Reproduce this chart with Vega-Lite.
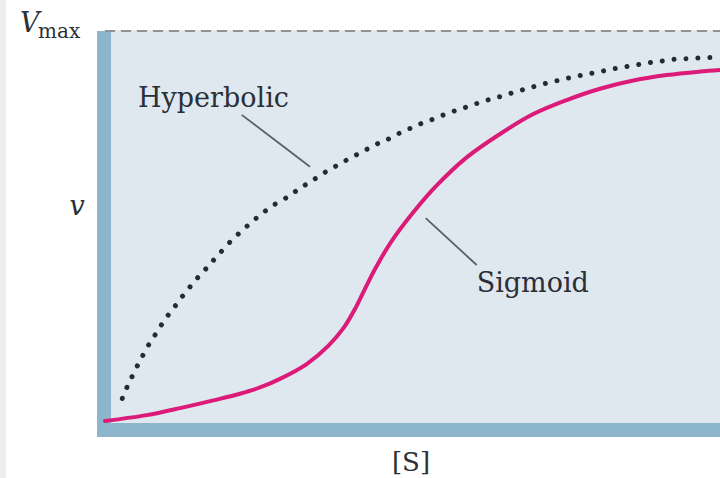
{
  "$schema": "https://vega.github.io/schema/vega-lite/v6.json",
  "width": 720,
  "height": 478,
  "autosize": "none",
  "padding": 0,
  "background": "white",
  "config": {"view": {"stroke": null}},
  "datasets": {
    "edge": [{"s": -10.8, "s2": -10.2, "v": -0.146, "v2": 1.079}],
    "plot": [{"s": 0.3, "s2": 61.2, "v": -0.005, "v2": 1.0026}],
    "leftbar": [{"s": -1.1, "s2": 0.3, "v": -0.041, "v2": 1.0}],
    "bottombar": [{"s": -1.1, "s2": 61.2, "v": -0.041, "v2": -0.005}],
    "vmax": [{"s": -0.3, "v": 1.0}, {"s": 61.2, "v": 1.0}],
    "hyperbolic": [
      {"s": 1.43, "v": 0.058}, {"s": 1.87, "v": 0.085}, {"s": 2.37, "v": 0.112}, {"s": 2.87, "v": 0.138},
      {"s": 3.4, "v": 0.164}, {"s": 3.97, "v": 0.191}, {"s": 4.57, "v": 0.215}, {"s": 5.2, "v": 0.241},
      {"s": 5.83, "v": 0.265}, {"s": 6.53, "v": 0.288}, {"s": 7.2, "v": 0.312}, {"s": 7.93, "v": 0.335},
      {"s": 8.67, "v": 0.359}, {"s": 9.43, "v": 0.38}, {"s": 10.2, "v": 0.402}, {"s": 10.93, "v": 0.423},
      {"s": 12.2, "v": 0.459}, {"s": 13.7, "v": 0.495}, {"s": 15.2, "v": 0.528}, {"s": 16.7, "v": 0.556},
      {"s": 18.13, "v": 0.577}, {"s": 19.13, "v": 0.596}, {"s": 20.1, "v": 0.611}, {"s": 21.1, "v": 0.628},
      {"s": 22.1, "v": 0.644}, {"s": 23.13, "v": 0.658}, {"s": 24.13, "v": 0.673}, {"s": 25.2, "v": 0.687},
      {"s": 26.2, "v": 0.701}, {"s": 27.27, "v": 0.715}, {"s": 28.3, "v": 0.726}, {"s": 29.37, "v": 0.741},
      {"s": 30.47, "v": 0.753}, {"s": 31.53, "v": 0.765}, {"s": 32.63, "v": 0.775}, {"s": 33.77, "v": 0.787},
      {"s": 34.87, "v": 0.797}, {"s": 35.97, "v": 0.806}, {"s": 37.1, "v": 0.816}, {"s": 38.23, "v": 0.825},
      {"s": 39.37, "v": 0.833}, {"s": 40.5, "v": 0.842}, {"s": 41.7, "v": 0.851}, {"s": 42.8, "v": 0.859},
      {"s": 43.97, "v": 0.867}, {"s": 45.13, "v": 0.874}, {"s": 46.3, "v": 0.881}, {"s": 47.47, "v": 0.887},
      {"s": 48.63, "v": 0.893}, {"s": 49.8, "v": 0.899}, {"s": 50.97, "v": 0.905}, {"s": 52.13, "v": 0.91},
      {"s": 53.3, "v": 0.915}, {"s": 54.47, "v": 0.92}, {"s": 55.63, "v": 0.924}, {"s": 56.8, "v": 0.928},
      {"s": 58.0, "v": 0.929}, {"s": 59.2, "v": 0.931}, {"s": 60.37, "v": 0.932}, {"s": 61.2, "v": 0.933}
    ],
    "sigmoid": [
      {"s": -0.3, "v": 0.0}, {"s": 3.87, "v": 0.015}, {"s": 7.2, "v": 0.033}, {"s": 10.53, "v": 0.053},
      {"s": 13.2, "v": 0.07}, {"s": 15.2, "v": 0.086}, {"s": 17.2, "v": 0.108}, {"s": 19.87, "v": 0.146},
      {"s": 22.0, "v": 0.192}, {"s": 23.6, "v": 0.24}, {"s": 24.8, "v": 0.292}, {"s": 25.87, "v": 0.348},
      {"s": 26.8, "v": 0.394}, {"s": 28.2, "v": 0.455}, {"s": 30.53, "v": 0.535}, {"s": 32.87, "v": 0.604},
      {"s": 35.87, "v": 0.676}, {"s": 39.2, "v": 0.736}, {"s": 42.53, "v": 0.787},
      {"s": 45.87, "v": 0.823}, {"s": 49.2, "v": 0.852}, {"s": 52.53, "v": 0.873}, {"s": 55.87, "v": 0.887},
      {"s": 59.2, "v": 0.896}, {"s": 61.2, "v": 0.9}
    ],
    "leaders": [
      {"s": 13.37, "v": 0.785, "s2": 20.2, "v2": 0.652},
      {"s": 31.77, "v": 0.52, "s2": 36.87, "v2": 0.4}
    ],
    "curveLabels": [
      {"s": 3.0, "v": 0.805, "label": "Hyperbolic"},
      {"s": 36.87, "v": 0.332, "label": "Sigmoid"}
    ],
    "axisTitleS": [{"s": 30.3, "v": -0.128, "label": "[S]"}],
    "axisTitleV": [{"s": -3.1, "v": 0.528, "label": "v"}],
    "vmaxV": [{"s": -8.8, "v": 0.997, "label": "V"}],
    "vmaxSub": [{"s": -7.0, "v": 0.982, "label": "max"}]
  },
  "encoding": {
    "x": {"field": "s", "type": "quantitative", "axis": null,
          "scale": {"domain": [-10.8, 61.2], "nice": false, "zero": false, "padding": 0}},
    "y": {"field": "v", "type": "quantitative", "axis": null,
          "scale": {"domain": [-0.14615, 1.07949], "nice": false, "zero": false, "padding": 0}}
  },
  "layer": [
    {"data": {"name": "edge"}, "mark": {"type": "rect", "fill": "#eeeeee"},
     "encoding": {"x2": {"field": "s2"}, "y2": {"field": "v2"}}},
    {"data": {"name": "plot"}, "mark": {"type": "rect", "fill": "#dfe8ef"},
     "encoding": {"x2": {"field": "s2"}, "y2": {"field": "v2"}}},
    {"data": {"name": "leftbar"}, "mark": {"type": "rect", "fill": "#8db6cc"},
     "encoding": {"x2": {"field": "s2"}, "y2": {"field": "v2"}}},
    {"data": {"name": "bottombar"}, "mark": {"type": "rect", "fill": "#8db6cc"},
     "encoding": {"x2": {"field": "s2"}, "y2": {"field": "v2"}}},
    {"data": {"name": "vmax"}, "mark": {"type": "line", "stroke": "#929292", "strokeWidth": 2.2, "strokeDash": [10, 6]},
     "encoding": {}},
    {"data": {"name": "hyperbolic"},
     "mark": {"type": "line", "stroke": "#262a31", "strokeWidth": 5, "strokeCap": "round", "strokeDash": [0.01, 11.9], "interpolate": "catmull-rom"},
     "encoding": {}},
    {"data": {"name": "sigmoid"},
     "mark": {"type": "line", "stroke": "#dc1a78", "strokeWidth": 4, "strokeCap": "round", "interpolate": "catmull-rom"},
     "encoding": {}},
    {"data": {"name": "leaders"}, "mark": {"type": "rule", "stroke": "#5a5f66", "strokeWidth": 1.8},
     "encoding": {"x2": {"field": "s2"}, "y2": {"field": "v2"}}},
    {"data": {"name": "curveLabels"},
     "mark": {"type": "text", "font": "DejaVu Serif", "fontSize": 27, "fill": "#2b2f36", "align": "left", "baseline": "alphabetic"},
     "encoding": {"text": {"field": "label"}}},
    {"data": {"name": "axisTitleS"},
     "mark": {"type": "text", "font": "DejaVu Serif", "fontSize": 26, "fill": "#2b2f36", "align": "center", "baseline": "alphabetic"},
     "encoding": {"text": {"field": "label"}}},
    {"data": {"name": "axisTitleV"},
     "mark": {"type": "text", "font": "DejaVu Serif", "fontSize": 27, "fontStyle": "italic", "fill": "#2b2f36", "align": "center", "baseline": "alphabetic"},
     "encoding": {"text": {"field": "label"}}},
    {"data": {"name": "vmaxV"},
     "mark": {"type": "text", "font": "DejaVu Serif", "fontSize": 27, "fontStyle": "italic", "fill": "#2b2f36", "align": "left", "baseline": "alphabetic"},
     "encoding": {"text": {"field": "label"}}},
    {"data": {"name": "vmaxSub"},
     "mark": {"type": "text", "font": "DejaVu Serif", "fontSize": 20, "fill": "#2b2f36", "align": "left", "baseline": "alphabetic"},
     "encoding": {"text": {"field": "label"}}}
  ]
}
